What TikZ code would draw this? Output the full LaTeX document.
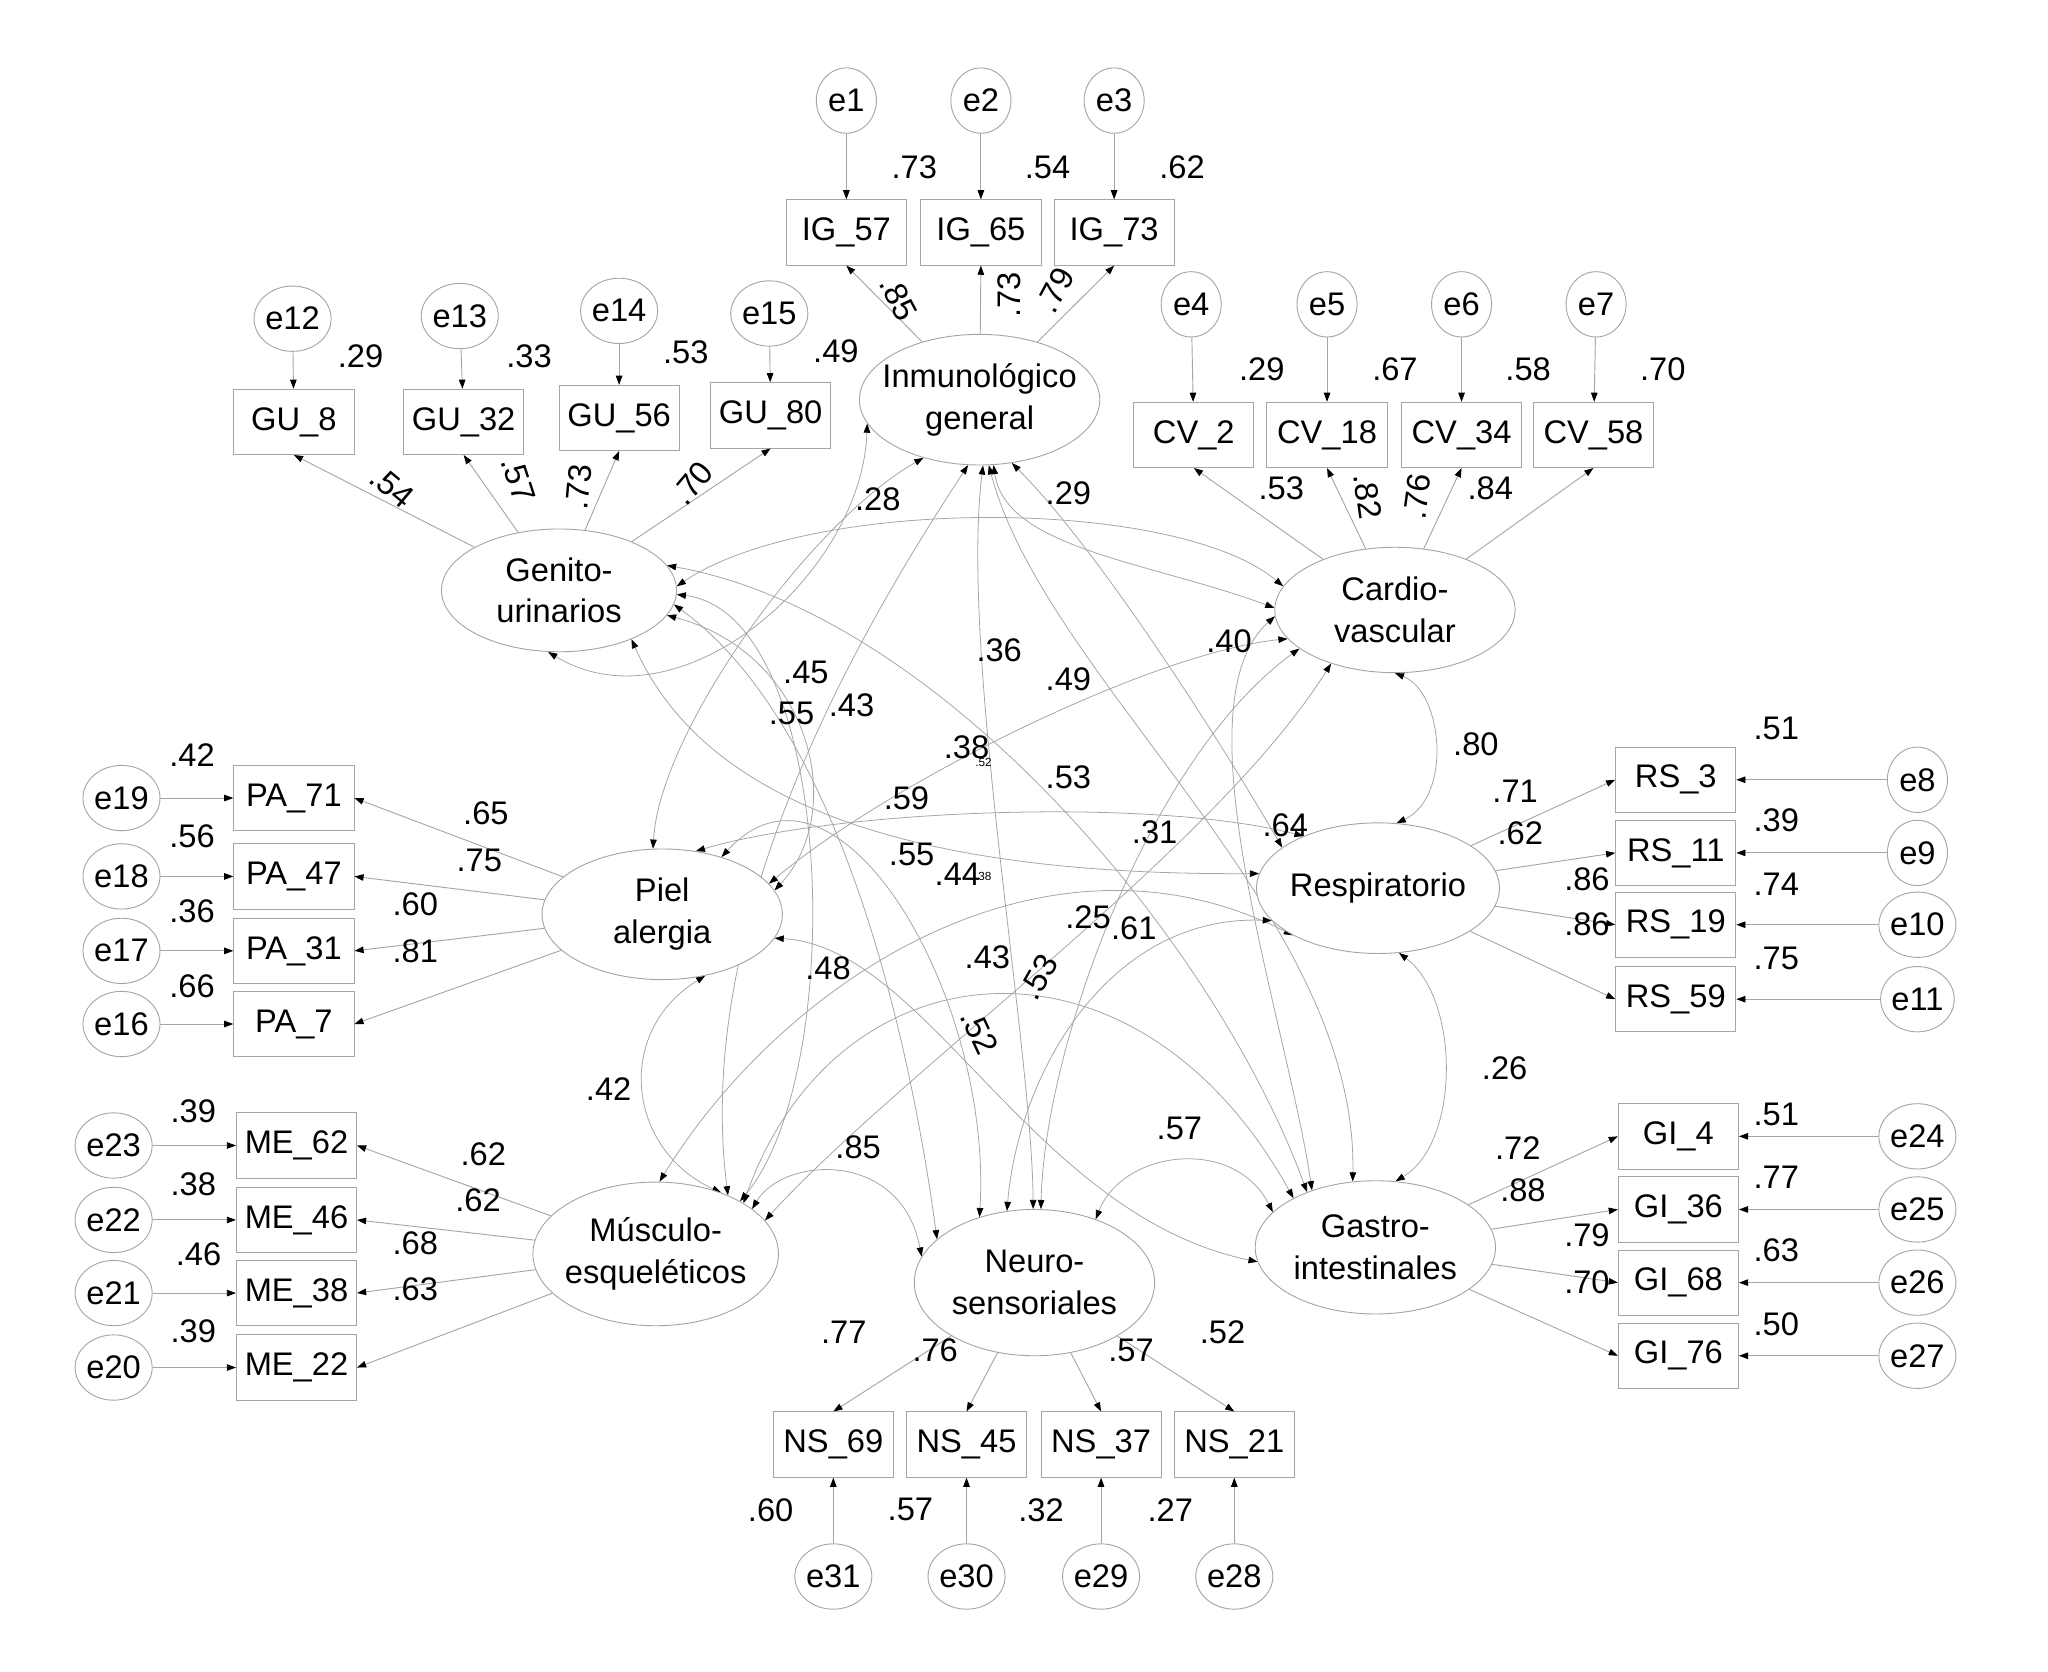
\documentclass[tikz,border=0pt]{standalone}
\usepackage{fontspec}
\setmainfont{Liberation Sans}
\usetikzlibrary{shapes.geometric,arrows.meta,backgrounds}
\definecolor{lg}{RGB}{165,165,165}
\begin{document}
\begin{tikzpicture}[x=1pt,y=-1pt,
  font=\fontsize{25}{32}\selectfont,
  >={Triangle[length=7pt,width=5pt,color=black]},
  box/.style={draw=lg, line width=0.7pt, minimum width=92pt, minimum height=50pt, inner sep=0pt, fill=white},
  err/.style={ellipse, draw=lg, line width=0.7pt, minimum width=46pt, minimum height=50pt, inner sep=0pt, fill=white},
  fac/.style={ellipse, draw=lg, line width=0.7pt, inner sep=0pt, fill=white},
  load/.style={draw=lg, line width=0.7pt, ->},
  cov/.style={draw=lg, line width=0.6pt, <->},
  num/.style={inner sep=0pt},
  tiny/.style={inner sep=0pt, font=\fontsize{9}{10}\selectfont}]
\useasboundingbox (0,0) rectangle (1568,1280);
\begin{scope}[on background layer]
\fill[white] (0,0) rectangle (1568,1280);
\end{scope}

% ---------- factors ----------
\node[fac, minimum width=184pt, minimum height=100pt, label={[align=center]center:Inmunológico\\general}] (IG) at (750,306) {};
\node[fac, minimum width=180pt, minimum height=94pt, label={[align=center]center:Genito-\\urinarios}] (GU) at (428,452) {};
\node[fac, minimum width=184pt, minimum height=96pt, label={[align=center]center:Cardio-\\vascular}] (CV) at (1068,467) {};
\node[fac, minimum width=184pt, minimum height=100pt, label={[align=center]center:Piel\\alergia}] (PA) at (507,700) {};
\node[fac, minimum width=186pt, minimum height=100pt, label={center:Respiratorio}] (RS) at (1055,680) {};
\node[fac, minimum width=188pt, minimum height=110pt, label={[align=center]center:Músculo-\\esqueléticos}] (ME) at (502,960) {};
\node[fac, minimum width=184pt, minimum height=112pt, label={[align=center]center:Neuro-\\sensoriales}] (NS) at (792,982) {};
\node[fac, minimum width=184pt, minimum height=102pt, label={[align=center]center:Gastro-\\intestinales}] (GI) at (1053,955) {};

% ---------- IG block ----------
\node[err] (e1) at (648,77) {e1};
\node[err] (e2) at (751,77) {e2};
\node[err] (e3) at (853,77) {e3};
\node[box] (IG57) at (648,178) {IG\_57};
\node[box] (IG65) at (751,178) {IG\_65};
\node[box] (IG73) at (853,178) {IG\_73};
\draw[load] (e1) -- (IG57);
\draw[load] (e2) -- (IG65);
\draw[load] (e3) -- (IG73);
\draw[load] (IG) -- (IG57.south);
\draw[load] (IG) -- (IG65.south);
\draw[load] (IG) -- (IG73.south);
\node[num] (v1) at (700,128) {.73};
\node[num] (v2) at (802,128) {.54};
\node[num] (v3) at (905,128) {.62};
\node[num,rotate=-62] (l1) at (688,228) {.85};
\node[num,rotate=90] (l2) at (773,226) {.73};
\node[num,rotate=62] (l3) at (808,222) {.79};

% ---------- GU block ----------
\node[err] (e12) at (224,244) {e12};
\node[err] (e13) at (352,242) {e13};
\node[err] (e14) at (474,238) {e14};
\node[err] (e15) at (589,240) {e15};
\node[box] (GU8) at (225,323) {GU\_8};
\node[box] (GU32) at (355,323) {GU\_32};
\node[box] (GU56) at (474,320) {GU\_56};
\node[box] (GU80) at (590,318) {GU\_80};
\draw[load] (e12) -- (GU8);
\draw[load] (e13) -- (GU32);
\draw[load] (e14) -- (GU56);
\draw[load] (e15) -- (GU80);
\draw[load] (GU) -- (GU8.south);
\draw[load] (GU) -- (GU32.south);
\draw[load] (GU) -- (GU56.south);
\draw[load] (GU) -- (GU80.south);
\node[num] (v4) at (276,273) {.29};
\node[num] (v5) at (405,273) {.33};
\node[num] (v6) at (525,270) {.53};
\node[num] (v7) at (640,269) {.49};
\node[num,rotate=-40] (l4) at (300,373) {.54};
\node[num,rotate=-72] (l5) at (397,367) {.57};
\node[num,rotate=85] (l6) at (443,373) {.73};
\node[num,rotate=50] (l7) at (530,370) {.70};

% ---------- CV block ----------
\node[err] (e4) at (912,233) {e4};
\node[err] (e5) at (1016,233) {e5};
\node[err] (e6) at (1119,233) {e6};
\node[err] (e7) at (1222,233) {e7};
\node[box] (CV2) at (914,333) {CV\_2};
\node[box] (CV18) at (1016,333) {CV\_18};
\node[box] (CV34) at (1119,333) {CV\_34};
\node[box] (CV58) at (1220,333) {CV\_58};
\draw[load] (e4) -- (CV2);
\draw[load] (e5) -- (CV18);
\draw[load] (e6) -- (CV34);
\draw[load] (e7) -- (CV58);
\draw[load] (CV) -- (CV2.south);
\draw[load] (CV) -- (CV18.south);
\draw[load] (CV) -- (CV34.south);
\draw[load] (CV) -- (CV58.south);
\node[num] (v8) at (966,283) {.29};
\node[num] (v9) at (1068,283) {.67};
\node[num] (v10) at (1170,283) {.58};
\node[num] (v11) at (1273,283) {.70};
\node[num] (l8) at (981,374) {.53};
\node[num,rotate=-82] (l9) at (1047,380) {.82};
\node[num,rotate=82] (l10) at (1085,380) {.76};
\node[num] (l11) at (1141,374) {.84};

% ---------- PA block ----------
\node[err] (e19) at (93,611) {e19};
\node[err] (e18) at (93,671) {e18};
\node[err] (e17) at (93,728) {e17};
\node[err] (e16) at (93,784) {e16};
\node[box] (PA71) at (225,611) {PA\_71};
\node[box] (PA47) at (225,671) {PA\_47};
\node[box] (PA31) at (225,728) {PA\_31};
\node[box] (PA7) at (225,784) {PA\_7};
\draw[load] (e19) -- (PA71);
\draw[load] (e18) -- (PA47);
\draw[load] (e17) -- (PA31);
\draw[load] (e16) -- (PA7);
\draw[load] (PA) -- (PA71.east);
\draw[load] (PA) -- (PA47.east);
\draw[load] (PA) -- (PA31.east);
\draw[load] (PA) -- (PA7.east);
\node[num] (v12) at (147,578) {.42};
\node[num] (v13) at (147,640) {.56};
\node[num] (v14) at (147,698) {.36};
\node[num] (v15) at (147,755) {.66};
\node[num] (l12) at (372,623) {.65};
\node[num] (l13) at (367,659) {.75};
\node[num] (l14) at (318,692) {.60};
\node[num] (l15) at (318,728) {.81};

% ---------- ME block ----------
\node[err] (e23) at (87,877) {e23};
\node[err] (e22) at (87,934) {e22};
\node[err] (e21) at (87,990) {e21};
\node[err] (e20) at (87,1047) {e20};
\node[box] (ME62) at (227,877) {ME\_62};
\node[box] (ME46) at (227,934) {ME\_46};
\node[box] (ME38) at (227,990) {ME\_38};
\node[box] (ME22) at (227,1047) {ME\_22};
\draw[load] (e23) -- (ME62);
\draw[load] (e22) -- (ME46);
\draw[load] (e21) -- (ME38);
\draw[load] (e20) -- (ME22);
\draw[load] (ME) -- (ME62.east);
\draw[load] (ME) -- (ME46.east);
\draw[load] (ME) -- (ME38.east);
\draw[load] (ME) -- (ME22.east);
\node[num] (v16) at (148,851) {.39};
\node[num] (v17) at (148,907) {.38};
\node[num] (v18) at (152,960) {.46};
\node[num] (v19) at (148,1019) {.39};
\node[num] (l16) at (370,884) {.62};
\node[num] (l17) at (366,919) {.62};
\node[num] (l18) at (318,952) {.68};
\node[num] (l19) at (318,987) {.63};

% ---------- NS block ----------
\node[box] (NS69) at (638,1106) {NS\_69};
\node[box] (NS45) at (740,1106) {NS\_45};
\node[box] (NS37) at (843,1106) {NS\_37};
\node[box] (NS21) at (945,1106) {NS\_21};
\node[err] (e31) at (638,1207) {e31};
\node[err] (e30) at (740,1207) {e30};
\node[err] (e29) at (843,1207) {e29};
\node[err] (e28) at (945,1207) {e28};
\draw[load] (e31) -- (NS69);
\draw[load] (e30) -- (NS45);
\draw[load] (e29) -- (NS37);
\draw[load] (e28) -- (NS21);
\draw[load] (NS) -- (NS69.north);
\draw[load] (NS) -- (NS45.north);
\draw[load] (NS) -- (NS37.north);
\draw[load] (NS) -- (NS21.north);
\node[num] (v20) at (590,1156) {.60};
\node[num] (v21) at (697,1156) {.57};
\node[num] (v22) at (797,1156) {.32};
\node[num] (v23) at (896,1156) {.27};
\node[num] (l20) at (646,1020) {.77};
\node[num] (l21) at (716,1034) {.76};
\node[num] (l22) at (866,1034) {.57};
\node[num] (l23) at (936,1020) {.52};

% ---------- RS block ----------
\node[box] (RS3) at (1283,597) {RS\_3};
\node[box] (RS11) at (1283,653) {RS\_11};
\node[box] (RS19) at (1283,708) {RS\_19};
\node[box] (RS59) at (1283,765) {RS\_59};
\node[err] (e8) at (1468,597) {e8};
\node[err] (e9) at (1468,653) {e9};
\node[err] (e10) at (1468,708) {e10};
\node[err] (e11) at (1468,765) {e11};
\draw[load] (e8) -- (RS3);
\draw[load] (e9) -- (RS11);
\draw[load] (e10) -- (RS19);
\draw[load] (e11) -- (RS59);
\draw[load] (RS) -- (RS3.west);
\draw[load] (RS) -- (RS11.west);
\draw[load] (RS) -- (RS19.west);
\draw[load] (RS) -- (RS59.west);
\node[num] (v24) at (1360,558) {.51};
\node[num] (v25) at (1360,628) {.39};
\node[num] (v26) at (1360,677) {.74};
\node[num] (v27) at (1360,734) {.75};
\node[num] (l24) at (1160,606) {.71};
\node[num] (l25) at (1164,638) {.62};
\node[num] (l26) at (1215,673) {.86};
\node[num] (l27) at (1215,708) {.86};

% ---------- GI block ----------
\node[box] (GI4) at (1285,870) {GI\_4};
\node[box] (GI36) at (1285,926) {GI\_36};
\node[box] (GI68) at (1285,982) {GI\_68};
\node[box] (GI76) at (1285,1038) {GI\_76};
\node[err] (e24) at (1468,870) {e24};
\node[err] (e25) at (1468,926) {e25};
\node[err] (e26) at (1468,982) {e26};
\node[err] (e27) at (1468,1038) {e27};
\draw[load] (e24) -- (GI4);
\draw[load] (e25) -- (GI36);
\draw[load] (e26) -- (GI68);
\draw[load] (e27) -- (GI76);
\draw[load] (GI) -- (GI4.west);
\draw[load] (GI) -- (GI36.west);
\draw[load] (GI) -- (GI68.west);
\draw[load] (GI) -- (GI76.west);
\node[num] (v28) at (1360,853) {.51};
\node[num] (v29) at (1360,901) {.77};
\node[num] (v30) at (1360,957) {.63};
\node[num] (v31) at (1360,1014) {.50};
\node[num] (l28) at (1162,879) {.72};
\node[num] (l29) at (1166,911) {.88};
\node[num] (l30) at (1215,946) {.79};
\node[num] (l31) at (1215,982) {.70};

% ---------- covariances ----------
\begin{scope}[on background layer]
\draw[cov] (CV.-90) .. controls (1105,530) and (1112,610) .. (RS.74);
\draw[cov] (RS.-72) .. controls (1118,765) and (1118,875) .. (GI.73);
\draw[cov] (PA.-55) .. controls (470,790) and (480,880) .. (ME.43);
\draw[cov] (ME.25) .. controls (600,885) and (690,880) .. (NS.167);
\draw[cov] (NS.46) .. controls (860,880) and (945,870) .. (GI.161);
\draw[cov] (PA.-12) .. controls (710,725) and (790,930) .. (GI.-173);
\draw[cov] (GU.-34) .. controls (550,640) and (760,670) .. (RS.173);
\draw[cov] (GU.2) .. controls (620,380) and (900,380) .. (CV.168);
\draw[cov] (GU.13) .. controls (720,470) and (930,720) .. (GI.141);
\draw[cov] (ME.30) .. controls (640,720) and (870,700) .. (GI.149);
\draw[cov] (IG.-168) .. controls (660,440) and (520,560) .. (GU.-100);
\draw[cov] (IG.-78) .. controls (770,420) and (880,430) .. (CV.179);
\draw[cov] (CV.-165) .. controls (880,500) and (680,600) .. (PA.16);
\draw[cov] (CV.-158) .. controls (880,580) and (800,800) .. (NS.85);
\draw[cov] (CV.-177) .. controls (900,540) and (985,780) .. (GI.138);
\draw[cov] (CV.-140) .. controls (930,650) and (690,820) .. (ME.17);
\draw[cov] (IG.-100) .. controls (660,480) and (530,700) .. (ME.39);
\draw[cov] (GU.-2) .. controls (640,470) and (650,820) .. (ME.32);
\draw[cov] (GU.-13) .. controls (620,500) and (650,620) .. (PA.12);
\draw[cov] (GU.-7) .. controls (650,560) and (700,820) .. (NS.156);
\draw[cov] (PA.62) .. controls (640,620) and (880,610) .. (RS.145);
\draw[cov] (PA.98) .. controls (505,560) and (620,400) .. (IG.-134);
\draw[cov] (PA.44) .. controls (640,560) and (760,760) .. (NS.130);
\draw[cov] (IG.-87) .. controls (735,500) and (790,800) .. (NS.91);
\draw[cov] (IG.-82) .. controls (800,520) and (1040,700) .. (GI.109);
\draw[cov] (IG.-63) .. controls (840,420) and (930,560) .. (RS.157);
\draw[cov] (ME.87) .. controls (600,750) and (800,620) .. (RS.-151);
\draw[cov] (RS.-163) .. controls (850,700) and (780,820) .. (NS.111);
\end{scope}

% ---------- covariance labels ----------
\node[num] (c1) at (672,382) {.28};
\node[num] (c2) at (818,378) {.29};
\node[num] (c3) at (617,515) {.45};
\node[num] (c4) at (606,546) {.55};
\node[num] (c5) at (652,540) {.43};
\node[num] (c6) at (765,498) {.36};
\node[num] (c7) at (818,520) {.49};
\node[num] (c8) at (941,491) {.40};
\node[num] (c9) at (740,572) {.38};
\node[tiny] (s1) at (753,584) {.52};
\node[num] (c10) at (694,611) {.59};
\node[num] (c11) at (818,595) {.53};
\node[num] (c12) at (884,637) {.31};
\node[num] (c13) at (984,632) {.64};
\node[num] (c14) at (698,654) {.55};
\node[num] (c15) at (733,669) {.44};
\node[tiny] (s2) at (754,671) {38};
\node[num] (c16) at (833,702) {.25};
\node[num] (c17) at (868,711) {.61};
\node[num] (c18) at (634,741) {.48};
\node[num] (c19) at (756,733) {.43};
\node[num,rotate=60] (c20) at (795,748) {.53};
\node[num,rotate=-65] (c21) at (750,790) {.52};
\node[num] (c22) at (466,834) {.42};
\node[num] (c23) at (657,878) {.85};
\node[num] (c24) at (903,864) {.57};
\node[num] (c25) at (1152,818) {.26};
\node[num] (c26) at (1130,570) {.80};
\end{tikzpicture}
\end{document}
